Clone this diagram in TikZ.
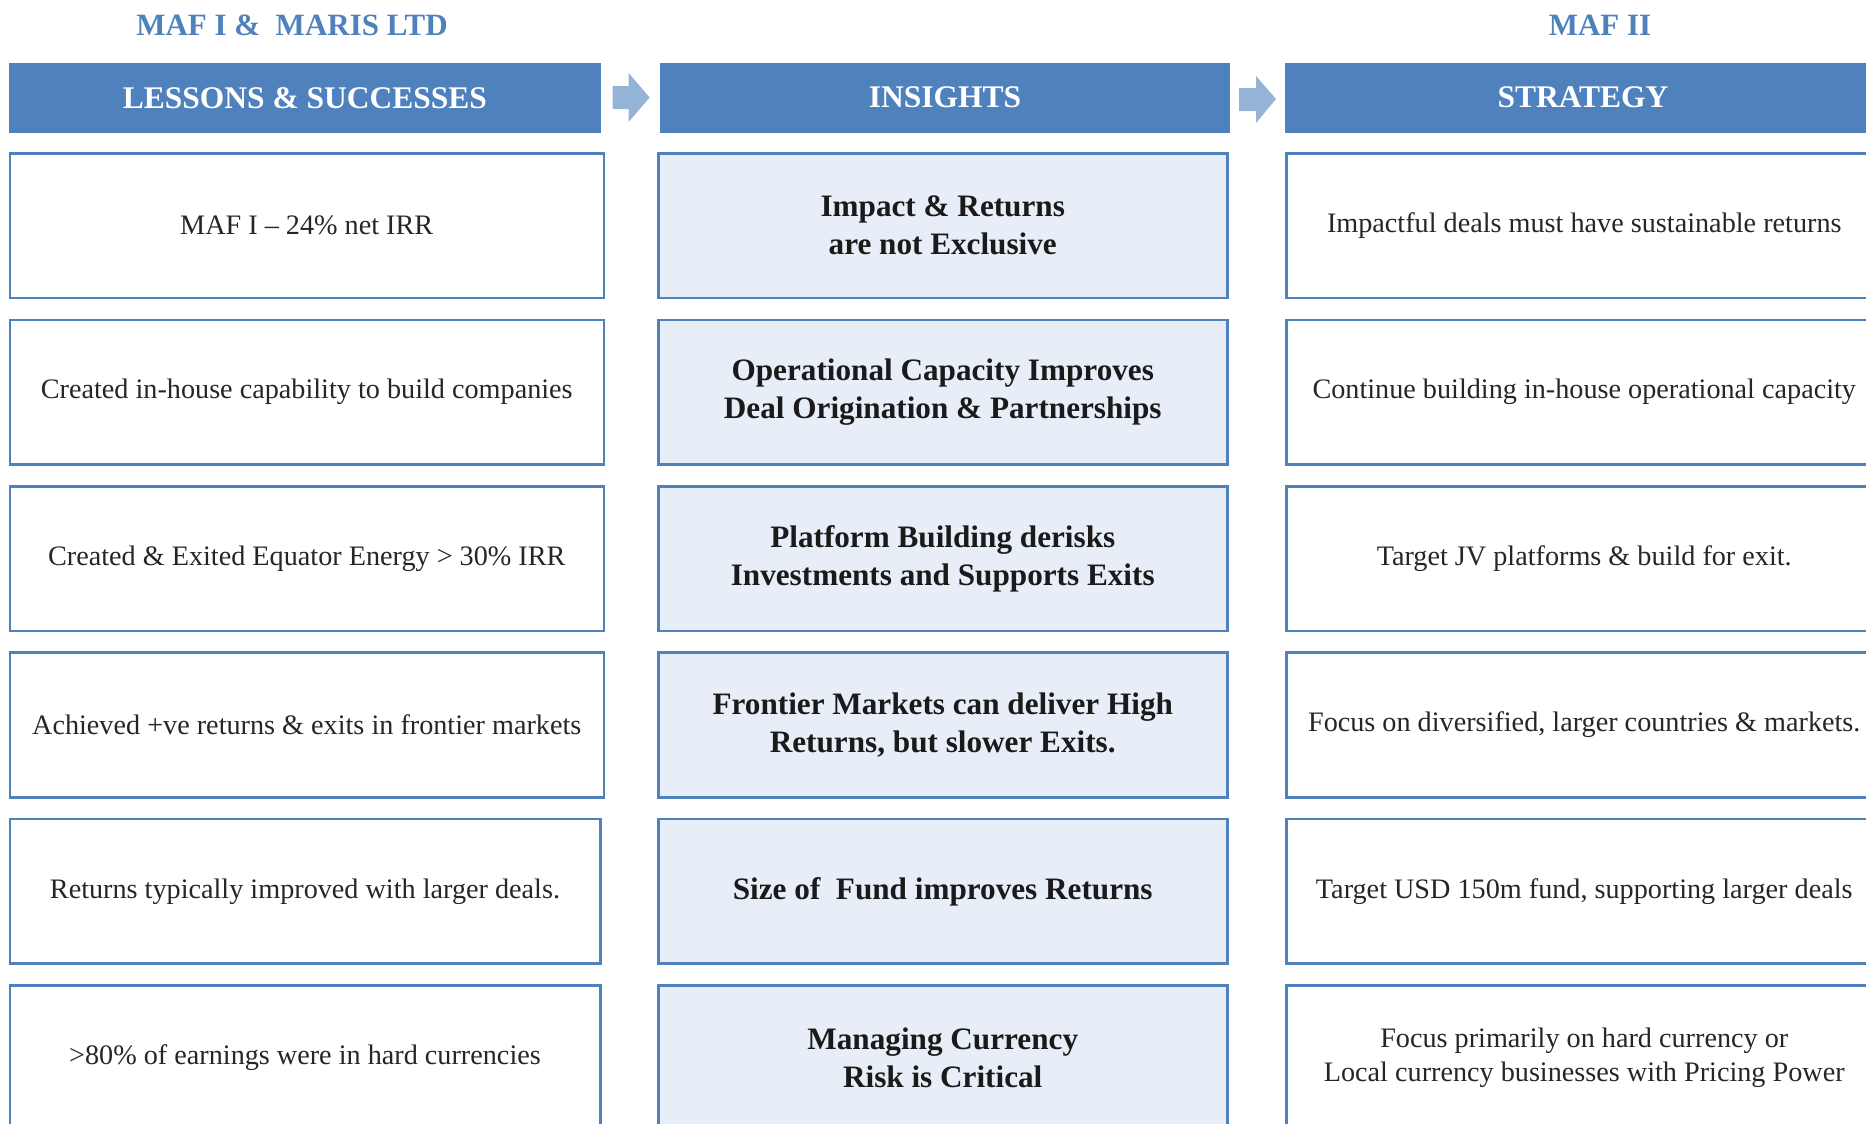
\documentclass[tikz,border=0pt]{standalone}
\usepackage{fontspec}
\setmainfont{Liberation Serif}
\definecolor{hdrblue}{HTML}{4F81BD}
\definecolor{arrblue}{HTML}{95B3D7}
\definecolor{midfill}{HTML}{E8EEF7}
\definecolor{txtgray}{HTML}{262626}
\definecolor{txtdark}{HTML}{1A1A1A}
\tikzset{
  title/.style={text=hdrblue, font=\fontsize{31}{36}\selectfont\bfseries, inner sep=0pt},
  hdr/.style={fill=hdrblue, draw=none, anchor=north west, minimum height=69.6pt, inner sep=0pt,
    text=white, font=\fontsize{31.5}{36}\selectfont\bfseries},
  lbox/.style={draw=hdrblue, line width=2.5pt, fill=white, anchor=north west, minimum height=144.6pt,
    inner sep=0pt, align=center, text=txtgray, font=\fontsize{28.2}{34.5}\selectfont},
  mbox/.style={draw=hdrblue, line width=2.5pt, fill=midfill, anchor=north west, minimum height=144.6pt,
    minimum width=569pt, inner sep=0pt, align=center, text=txtdark, font=\fontsize{31.2}{38}\selectfont\bfseries},
  blockarrow/.style={fill=arrblue, draw=none}
}
\begin{document}
\begin{tikzpicture}[x=1pt, y=-1pt]
\useasboundingbox (0,0) rectangle (1866,1124);
\clip (0,0) rectangle (1866,1124);
% titles
\node[title] (t1) at (292,25) {MAF I \&\ \ MARIS LTD};
\node[title] (t2) at (1600,25) {MAF II};
% headers
\node[hdr, minimum width=592.5pt] (h1) at (8.5,62.7) {LESSONS \& SUCCESSES};
\node[hdr, minimum width=569.6pt] (h2) at (660,62.7) {INSIGHTS};
\node[hdr, minimum width=590pt] (h3) at (1285,62.7) {\hspace*{0pt}};
\node[text=white, font=\fontsize{31.5}{36}\selectfont\bfseries, inner sep=0pt] (h3t) at (1583,97.5) {STRATEGY};
% block arrows
\fill[blockarrow] (612.5,86) -- (628.6,86) -- (628.6,73) -- (649.6,97.5) -- (628.6,122) -- (628.6,109) -- (612.5,109) -- cycle;
\fill[blockarrow] (1239,88) -- (1256,88) -- (1256,76) -- (1276,99) -- (1256,123) -- (1256,111) -- (1239,111) -- cycle;
% column 1
\node[lbox, minimum width=594pt] (a1) at (8.5,152.2) {MAF I – 24\% net IRR};
\node[lbox, minimum width=594pt] (a2) at (8.5,318.6) {Created in-house capability to build companies};
\node[lbox, minimum width=594pt] (a3) at (8.5,485) {Created \& Exited Equator Energy > 30\% IRR};
\node[lbox, minimum width=594pt] (a4) at (8.5,651.4) {Achieved +ve returns \& exits in frontier markets};
\node[lbox, minimum width=590.5pt] (a5) at (8.5,817.8) {Returns typically improved with larger deals.};
\node[lbox, minimum width=590.5pt] (a6) at (8.5,984.2) {>80\% of earnings were in hard currencies};
% column 2
\node[mbox] (b1) at (657,152.2) {Impact \& Returns\\are not Exclusive};
\node[mbox] (b2) at (657,318.6) {Operational Capacity Improves\\Deal Origination \& Partnerships};
\node[mbox] (b3) at (657,485) {Platform Building derisks\\Investments and Supports Exits};
\node[mbox] (b4) at (657,651.4) {Frontier Markets can deliver High\\Returns, but slower Exits.};
\node[mbox] (b5) at (657,817.8) {Size of\ \ Fund improves Returns};
\node[mbox] (b6) at (657,984.2) {Managing Currency\\Risk is Critical};
% column 3
\node[lbox, minimum width=596pt] (c1) at (1285,152.2) {Impactful deals must have sustainable returns};
\node[lbox, minimum width=596pt] (c2) at (1285,318.6) {Continue building in-house operational capacity};
\node[lbox, minimum width=596pt] (c3) at (1285,485) {Target JV platforms \& build for exit.};
\node[lbox, minimum width=596pt] (c4) at (1285,651.4) {Focus on diversified, larger countries \& markets.};
\node[lbox, minimum width=596pt] (c5) at (1285,817.8) {Target USD 150m fund, supporting larger deals};
\node[lbox, minimum width=596pt] (c6) at (1285,984.2) {Focus primarily on hard currency or\\Local currency businesses with Pricing Power};
\end{tikzpicture}
\end{document}
